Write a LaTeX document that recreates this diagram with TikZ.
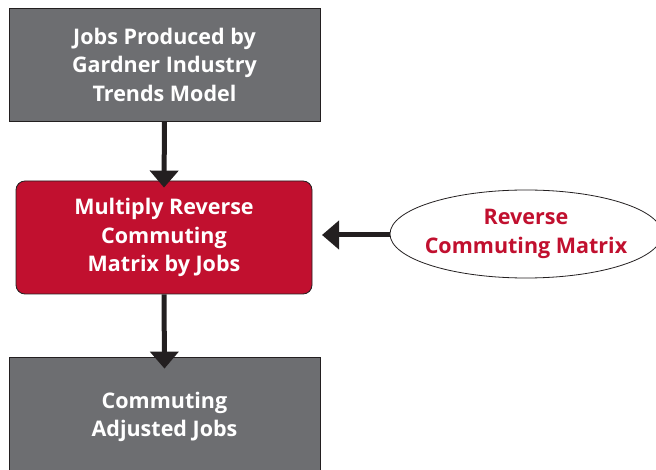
\documentclass[tikz,border=0pt]{standalone}
\usepackage{fontspec}
\setmainfont{Open Sans}
\usetikzlibrary{arrows.meta,shapes.geometric}
\definecolor{boxgray}{HTML}{6D6E71}
\definecolor{boxred}{HTML}{C1102F}
\definecolor{arrowdark}{HTML}{231F20}
\tikzset{
  txt/.style={font=\bfseries\fontsize{21.5}{28.5}\selectfont, align=center, inner sep=0pt},
  graybox/.style={txt, rectangle, draw=arrowdark, line width=0.8pt, fill=boxgray, text=white},
  redbox/.style={txt, rectangle, rounded corners=9pt, draw=arrowdark, line width=0.8pt, fill=boxred, text=white,
    minimum width=296pt, minimum height=113pt},
  oval/.style={txt, ellipse, draw=arrowdark, line width=0.8pt, fill=white, text=boxred,
    inner xsep=-12pt, minimum width=272pt, minimum height=88pt},
  flowarrow/.style={draw=arrowdark, line width=5pt, -{Triangle[width=28pt,length=17pt]}}
}
\begin{document}
\begin{tikzpicture}[x=1pt,y=-1pt]
\useasboundingbox (0,0) rectangle (656,470);
\clip (0,0) rectangle (656,470);
\node[graybox, minimum width=311pt, minimum height=113pt] (top) at (164.5,64.5) {Jobs Produced by\\Gardner Industry\\Trends Model};
\node[redbox] (mid) at (164,237.5) {Multiply Reverse\\Commuting\\Matrix by Jobs};
\node[graybox, minimum width=311pt, minimum height=120pt] (bot) at (164.5,417) {Commuting\\Adjusted Jobs};
\node[oval] (rcm) at (526,234) {Reverse\\Commuting Matrix};
\coordinate (midin) at (322,235);
\draw[flowarrow] (top.south) -- ([yshift=-7pt]mid.north);
\draw[flowarrow] (mid.south) -- ([yshift=-12pt]bot.north);
\draw[flowarrow] (rcm.west |- midin) -- (midin);
\end{tikzpicture}
\end{document}
